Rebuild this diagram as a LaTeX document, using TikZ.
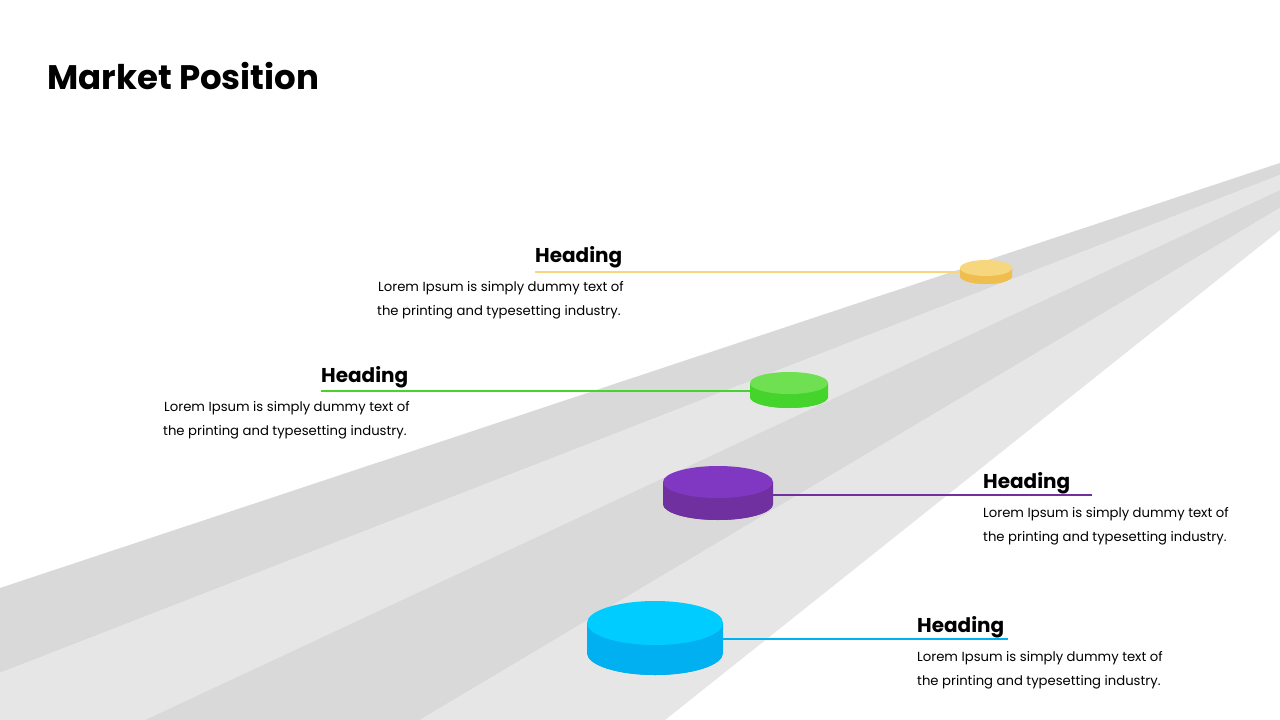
\documentclass[tikz,border=0pt]{standalone}
\usepackage{fontspec}
\setmainfont{Poppins}
\begin{document}
\begin{tikzpicture}[x=1pt,y=-1pt,
  head/.style={anchor=base west,inner sep=0pt,font=\fontsize{20}{23}\selectfont\bfseries},
  body/.style={anchor=base west,inner sep=0pt,font=\fontsize{13.2}{15}\selectfont},
  lead/.style={line width=1.2pt}]
\definecolor{dk}{HTML}{D9D9D9}\definecolor{lt}{HTML}{E7E6E6}
\definecolor{ytop}{HTML}{F7D77E}\definecolor{yside}{HTML}{F0BE4E}
\definecolor{gtop}{HTML}{6EE052}\definecolor{gside}{HTML}{45D42C}
\definecolor{ptop}{HTML}{8038C2}\definecolor{pside}{HTML}{7030A0}
\definecolor{btop}{HTML}{00CCFF}\definecolor{bside}{HTML}{00B0F0}
\useasboundingbox (0,0) rectangle (1280,720);
\fill[white] (0,0) rectangle (1280,720);
\fill[dk] (0,588) -- (1280,163) -- (1280,175) -- (0,673) -- cycle;
\fill[lt] (0,673) -- (1280,175) -- (1280,190) -- (145,720) -- (0,720) -- cycle;
\fill[dk] (145,720) -- (1280,190) -- (1280,208) -- (420,720) -- cycle;
\fill[lt] (420,720) -- (1280,208) -- (1280,230) -- (665,720) -- cycle;
\node[anchor=base west,inner sep=0pt,font=\fontsize{34}{40}\selectfont\bfseries] (title) at (47,89) {Market Position};
\newcommand{\cyl}[7]{%
 \fill[#6] (#1-#3,#2) -- (#1-#3,#2+#5) arc[start angle=180,end angle=360,x radius=#3,y radius=-#4] -- (#1+#3,#2) -- cycle;
 \fill[#6] (#1,#2+#5) ellipse[x radius=#3,y radius=#4];
 \fill[#7] (#1,#2) ellipse[x radius=#3,y radius=#4];}
\cyl{986}{268}{26}{8}{8}{yside}{ytop}
\cyl{789}{383}{39}{11}{14}{gside}{gtop}
\cyl{718}{482}{55}{16}{22}{pside}{ptop}
\cyl{655}{623}{68}{22}{30}{bside}{btop}
\coordinate (y1) at (960,272); \coordinate (g1) at (750,391);
\coordinate (p1) at (773,495); \coordinate (b1) at (723,639);
\node[head] (h1) at (535,262) {Heading};
\node[body] (t1) at (378,291) {Lorem Ipsum is simply dummy text of};
\node[body] (u1) at (377,315) {the printing and typesetting industry.};
\node[head] (h2) at (321,382) {Heading};
\node[body] (t2) at (164,411) {Lorem Ipsum is simply dummy text of};
\node[body] (u2) at (163,435) {the printing and typesetting industry.};
\node[head] (h3) at (983,488) {Heading};
\node[body] (t3) at (983,517) {Lorem Ipsum is simply dummy text of};
\node[body] (u3) at (983,541) {the printing and typesetting industry.};
\node[head] (h4) at (917,632) {Heading};
\node[body] (t4) at (917,661) {Lorem Ipsum is simply dummy text of};
\node[body] (u4) at (917,685) {the printing and typesetting industry.};
\draw[lead,ytop] (535,272) -- (y1);
\draw[lead,gside] (321,391) -- (g1);
\draw[lead,pside] (p1) -- (1092,495);
\draw[lead,bside] (b1) -- (1008,639);
\end{tikzpicture}
\end{document}
